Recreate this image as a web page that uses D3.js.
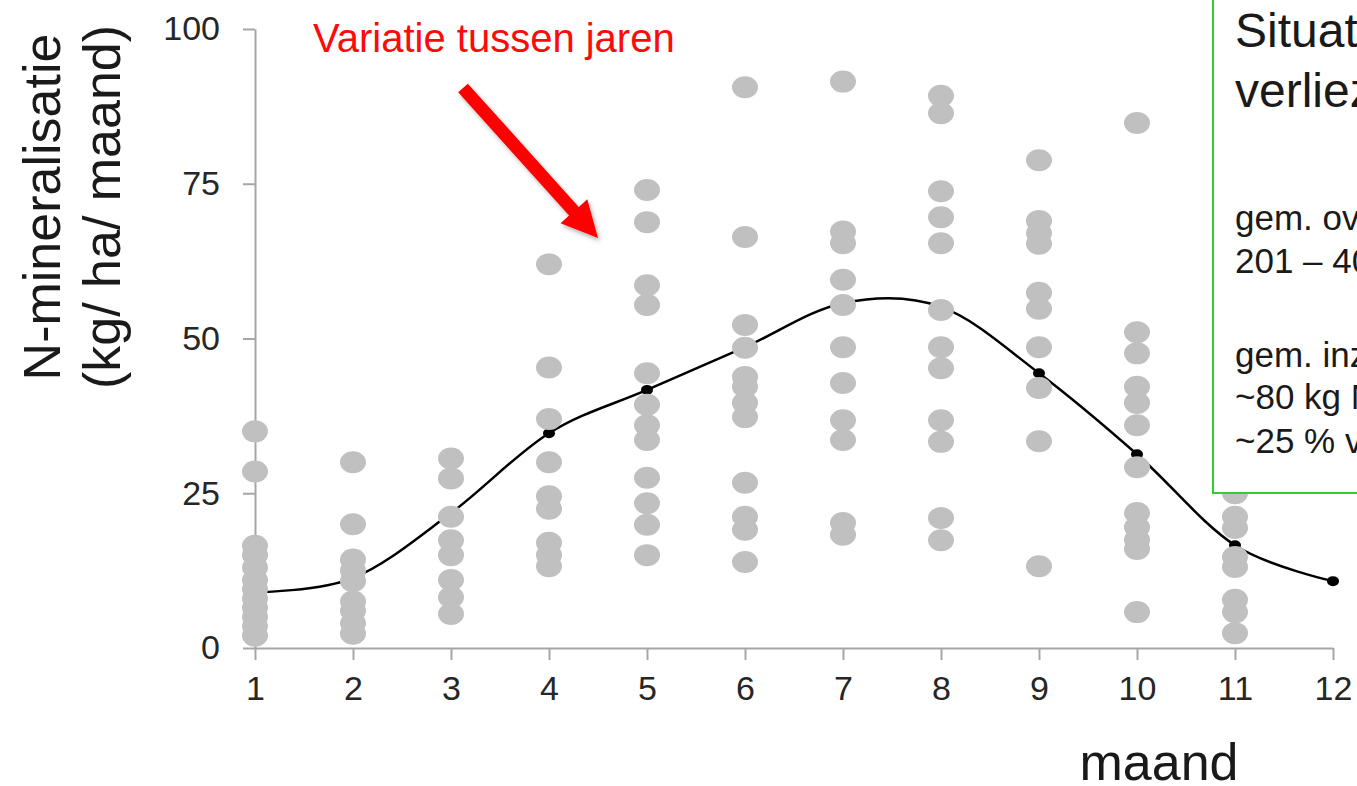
<!DOCTYPE html>
<html>
<head>
<meta charset="utf-8">
<script src="https://cdn.jsdelivr.net/npm/d3@7"></script>
<style>
    body { margin: 0; background: #fff; }
    svg { display: block; }
</style>
</head>
<body>
<div id="chart"></div>
<script>
// months on the x axis, tick values on the y axis
const months = [1, 2, 3, 4, 5, 6, 7, 8, 9, 10, 11, 12];
const yTicks = [0, 25, 50, 75, 100];

// N-mineralisation per year (kg/ha/month), one array per month
const month1 = [35, 28.5, 16.5, 15, 13, 11, 9.5, 8, 6.5, 5, 3.5, 2];
const month2 = [30, 20, 14.3, 12.5, 10.8, 7.5, 6, 4, 2.3];
const month3 = [30.6, 27.4, 21.2, 17.4, 15, 11, 8.2, 5.5];
const month4 = [62, 45.3, 37, 30, 24.5, 22.5, 17, 15, 13.2];
const month5 = [74, 68.8, 58.6, 55.4, 44.4, 39.3, 36, 33.6, 27.5, 23.4, 19.9, 15];
const month6 = [90.6, 66.4, 52.2, 48.5, 43.8, 42.2, 39.6, 37.3, 26.7, 21.2, 19.1, 13.9];
const month7 = [91.5, 67.3, 65.4, 59.5, 55.4, 48.6, 42.8, 36.8, 33.6, 20.2, 18.3];
const month8 = [89.2, 86.4, 73.8, 69.6, 65.4, 54.6, 48.6, 45.2, 36.8, 33.3, 21, 17.4];
const month9 = [78.8, 69, 67, 65.3, 57.4, 54.8, 48.6, 42, 33.4, 13.2];
const month10 = [84.8, 51, 47.6, 42.2, 39.6, 36, 29.2, 21.8, 19.5, 17.5, 16, 5.8];
const month11 = [25, 21.2, 19.4, 14.7, 13.1, 7.8, 5.8, 2.4];

// average per month (smoothed line)
const monthMean = [9, 11.3, 21.8, 34.7, 41.7, 48.6, 55.7, 55.1, 44.4, 31.3, 16.6, 10.8];

const W = 1357, H = 786;
const font = "'Liberation Sans', Arial, sans-serif";

const svg = d3.select("#chart").append("svg")
    .attr("width", W)
    .attr("height", H)
    .style("font-family", font);

const x = d3.scaleLinear().domain([1, 12]).range([255, 1333]);
const y = d3.scaleLinear().domain([0, 100]).range([648, 29]);

// axes
const yAxis = svg.append("g")
    .attr("transform", "translate(" + x(1) + ",0)")
    .call(d3.axisLeft(y).tickValues(yTicks).tickSize(12).tickPadding(23).tickSizeOuter(0));

const xAxis = svg.append("g")
    .attr("transform", "translate(0," + y(0) + ")")
    .call(d3.axisBottom(x).tickValues(months).tickSize(12).tickPadding(16).tickSizeOuter(0));

[yAxis, xAxis].forEach(g => {
    g.selectAll("path, line").attr("stroke", "#a6a6a6").attr("stroke-width", 2);
    g.selectAll("text").attr("fill", "#262626").style("font-size", "34px").style("font-family", font);
});

// smoothed mean line
const line = d3.line()
    .x((d, i) => x(months[i]))
    .y(d => y(d))
    .curve(d3.curveCardinal);

svg.append("path")
    .datum(monthMean)
    .attr("d", line)
    .attr("fill", "none")
    .attr("stroke", "#000")
    .attr("stroke-width", 2.5);

svg.selectAll(".mean-dot")
    .data(monthMean)
    .enter()
    .append("ellipse")
    .attr("class", "mean-dot")
    .attr("cx", (d, i) => x(months[i]))
    .attr("cy", d => y(d))
    .attr("rx", 6)
    .attr("ry", 5)
    .attr("fill", "#000");

// yearly values as grey dots
const perMonth = [month1, month2, month3, month4, month5, month6, month7, month8, month9, month10, month11];
const dots = [];
perMonth.forEach((vals, i) => vals.forEach(v => dots.push({month: months[i], value: v})));

svg.selectAll(".year-dot")
    .data(dots)
    .enter()
    .append("ellipse")
    .attr("class", "year-dot")
    .attr("cx", d => x(d.month))
    .attr("cy", d => y(d.value))
    .attr("rx", 13)
    .attr("ry", 11)
    .attr("fill", "#c0c0c0");

// text box on the right (runs off the page, as in the original slide)
svg.append("rect")
    .attr("x", 1213)
    .attr("y", -10)
    .attr("width", 220)
    .attr("height", 503)
    .attr("fill", "#fff")
    .attr("stroke", "#2ed12e")
    .attr("stroke-width", 2);

const boxLines = [
    {t: "Situatie", y: 47, size: 48},
    {t: "verliezen", y: 107, size: 48},
    {t: "gem. overschot", y: 230, size: 35},
    {t: "201 – 400 kg N/ha", y: 273, size: 35},
    {t: "gem. inzijging", y: 367, size: 35},
    {t: "~80 kg N/ha", y: 409, size: 35},
    {t: "~25 % van overschot", y: 453, size: 35}
];

svg.selectAll(".box-text")
    .data(boxLines)
    .enter()
    .append("text")
    .attr("class", "box-text")
    .attr("x", 1235)
    .attr("y", d => d.y)
    .attr("fill", "#1a1a1a")
    .style("font-size", d => d.size + "px")
    .text(d => d.t);

// red annotation with arrow
svg.append("text")
    .attr("x", 313)
    .attr("y", 52)
    .attr("fill", "#ff0a0a")
    .style("font-size", "40px")
    .text("Variatie tussen jaren");

const defs = svg.append("defs");
defs.append("filter")
    .attr("id", "shadow")
    .append("feDropShadow")
    .attr("dx", 2).attr("dy", 3).attr("stdDeviation", 2)
    .attr("flood-color", "#000").attr("flood-opacity", 0.3);

const aStart = [463, 88], aTip = [598, 238];
const len = Math.hypot(aTip[0] - aStart[0], aTip[1] - aStart[1]);
const ux = (aTip[0] - aStart[0]) / len, uy = (aTip[1] - aStart[1]) / len;
const nx = -uy, ny = ux;
const headLen = 36, headW = 18, shaftW = 6.5;
const bx = aTip[0] - ux * headLen, by = aTip[1] - uy * headLen;
const arrowPts = [
    [aStart[0] + nx * shaftW, aStart[1] + ny * shaftW],
    [bx + nx * shaftW, by + ny * shaftW],
    [bx + nx * headW, by + ny * headW],
    aTip,
    [bx - nx * headW, by - ny * headW],
    [bx - nx * shaftW, by - ny * shaftW],
    [aStart[0] - nx * shaftW, aStart[1] - ny * shaftW]
];

svg.append("path")
    .attr("d", "M" + arrowPts.map(p => p.join(",")).join("L") + "Z")
    .attr("fill", "#ff0000")
    .attr("filter", "url(#shadow)");

// axis titles
svg.append("text")
    .attr("transform", "translate(60,207) rotate(-90)")
    .attr("text-anchor", "middle")
    .attr("fill", "#1a1a1a")
    .style("font-size", "52px")
    .text("N-mineralisatie");

svg.append("text")
    .attr("transform", "translate(120,207) rotate(-90)")
    .attr("text-anchor", "middle")
    .attr("fill", "#1a1a1a")
    .style("font-size", "52px")
    .text("(kg/ ha/ maand)");

svg.append("text")
    .attr("x", 1159)
    .attr("y", 780)
    .attr("text-anchor", "middle")
    .attr("fill", "#1a1a1a")
    .style("font-size", "52px")
    .text("maand");
</script>
</body>
</html>
